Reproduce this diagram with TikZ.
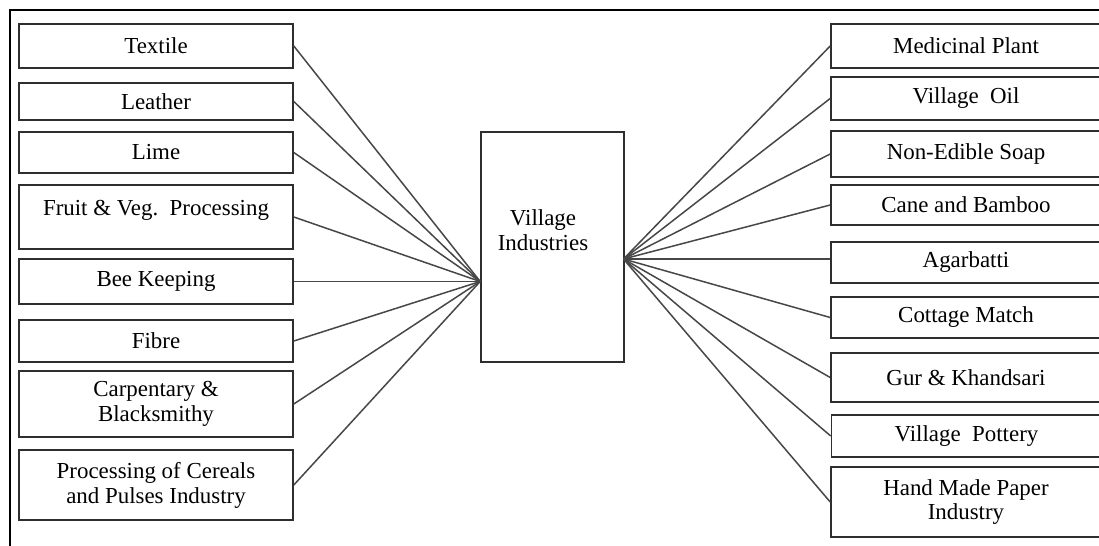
\documentclass[tikz,border=0pt]{standalone}
\usepackage{fontspec}
\setmainfont{Liberation Serif}
\begin{document}
\begin{tikzpicture}[x=1bp,y=-1bp,
  box/.style={draw=black!82, line width=1.6bp, rectangle, inner sep=0pt, align=center,
    font=\fontsize{23}{25}\selectfont, text=black},
  lbox/.style={box, minimum width=274bp},
  rbox/.style={box, minimum width=270bp},
  lbl/.style={inner sep=0pt, align=center, font=\fontsize{23}{25}\selectfont, text=black},
  conn/.style={draw=black!72, line width=1.5bp},
  frame/.style={draw=black, line width=1.8bp}]
\useasboundingbox (0,0) rectangle (1099,546);
\clip (0,0) rectangle (1099,546);
\fill[white] (0,0) rectangle (1099,546);
\draw[frame] (10,546) -- (10,10) -- (1099,10);

% left column
\node[lbox, minimum height=44bp] (textile) at (156,46) {Textile};
\node[lbox, minimum height=37bp] (leather) at (156,101.5) {Leather};
\node[lbox, minimum height=41bp] (lime) at (156,152.5) {Lime};
\node[lbox, minimum height=64bp] (fruit) at (156,217) {Fruit \& Veg.\ \ Processing\\[-7bp]\mbox{}};
\node[lbox, minimum height=45bp] (bee) at (156,281.5) {Bee Keeping};
\node[lbox, minimum height=42bp] (fibre) at (156,341) {Fibre};
\node[lbox, minimum height=66bp] (carp) at (156,404) {Carpentary \&\\Blacksmithy};
\node[lbox, minimum height=70bp] (proc) at (156,485) {Processing of Cereals\\and Pulses Industry};

% centre
\node[box, minimum width=143bp, minimum height=230bp] (vi) at (552.5,247) {};
\node[lbl] (vit) at (543,230) {Village\\Industries};

% right column
\node[rbox, minimum height=44bp] (med) at (966,46) {Medicinal Plant};
\node[rbox, minimum height=43bp] (oil) at (966,98.5) {Village\ \ Oil};
\node[rbox, minimum height=46bp] (soap) at (966,154) {Non-Edible Soap};
\node[rbox, minimum height=40bp] (cane) at (966,205) {Cane and Bamboo};
\node[rbox, minimum height=41bp] (agar) at (966,262.5) {Agarbatti};
\node[rbox, minimum height=41bp] (cottage) at (966,317.5) {Cottage Match};
\node[rbox, minimum height=49bp] (gur) at (966,377.5) {Gur \& Khandsari};
\node[rbox, minimum height=42bp] (pottery) at (966.5,436) {Village\ \ Pottery};
\node[rbox, minimum height=70bp] (hand) at (966,502) {Hand Made Paper\\Industry};

\coordinate (L) at (vi.west |- bee.east);
\coordinate (R) at (623.5,259);

\foreach \n in {textile,leather,lime,fruit,fibre,carp,proc}
  \draw[conn] (\n.east) -- (L);
\draw[conn] (bee.east) -- (L);

\foreach \n in {med,oil,soap,cane,cottage,gur,pottery,hand}
  \draw[conn] (R) -- (\n.west);
\draw[conn] (R) -- (agar.west |- R);
\end{tikzpicture}
\end{document}
